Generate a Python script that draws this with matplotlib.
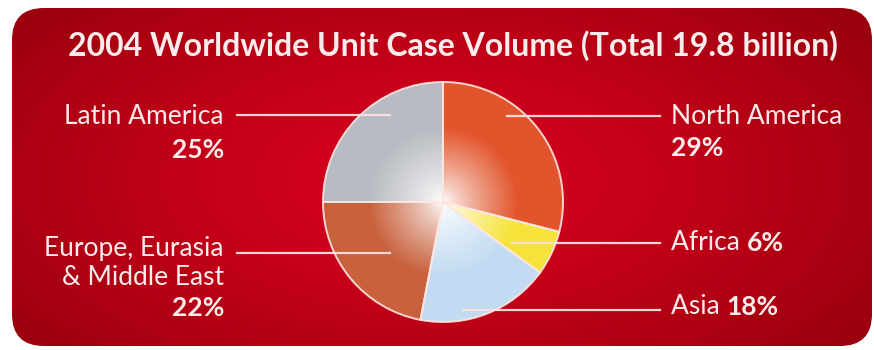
import numpy as np
import matplotlib.pyplot as plt
from matplotlib.colors import to_rgb
from matplotlib.patches import FancyBboxPatch

# Data
regions = ['North America', 'Africa', 'Asia', 'Europe, Eurasia\n& Middle East', 'Latin America']
shares = [29, 6, 18, 22, 25]
slice_colors = ['#e2552c', '#f6e33c', '#c2dbf2', '#c8613c', '#b8bbc1']
title = '2004 Worldwide Unit Case Volume (Total 19.8 billion)'

W, H = 874, 350
fig = plt.figure(figsize=(W / 100, H / 100), dpi=100)
ax = fig.add_axes([0, 0, 1, 1])

# red rounded panel with radial gradient
panel = FancyBboxPatch((12, 4), 860, 338, boxstyle='round,pad=0,rounding_size=32',
                       fc='none', ec='none')
ax.add_patch(panel)
xx, yy = np.meshgrid(np.linspace(0, W, 400), np.linspace(0, H, 200))
d = np.sqrt(((xx - 430) / 540) ** 2 + ((yy - 170) / 270) ** 2)
d = np.clip(d, 0, 1) ** 1.3
c0 = np.array([0.85, 0.0, 0.12])
c1 = np.array([0.60, 0.0, 0.05])
bg = c0 * (1 - d[..., None]) + c1 * d[..., None]
im = ax.imshow(bg, extent=[0, W, 0, H], origin='lower', zorder=0)
im.set_clip_path(panel)

# pie
cx, cy, R = 443, 148, 120
wedges, _ = ax.pie(shares, startangle=90, counterclock=False, center=(cx, cy), radius=R,
                   colors=['none'] * len(shares),
                   wedgeprops=dict(edgecolor=(1, 0.9, 0.88, 0.9), linewidth=1.4), frame=True)
ax.set_xlim(0, W)
ax.set_ylim(0, H)
ax.set_aspect('equal')
ax.axis('off')

gx, gy = np.meshgrid(np.linspace(cx - R, cx + R, 300), np.linspace(cy - R, cy + R, 300))
t = np.clip(np.hypot(gx - cx, gy - cy) / R, 0, 1)
f = np.clip(t * 1.6, 0, 1) ** 0.8
for w, col in zip(wedges, slice_colors):
    rgb = np.array(to_rgb(col))
    img = (1 - f[..., None]) * 1.0 + f[..., None] * rgb
    wi = ax.imshow(img, extent=[cx - R, cx + R, cy - R, cy + R], origin='lower', zorder=1)
    wi.set_clip_path(w)
    w.set_zorder(2)

# labels and leader lines
txt = '#fbecec'
lc = (1, 0.88, 0.88, 0.95)
fs = 19
fam = ['Lato', 'DejaVu Sans']
# left side
ax.plot([237, 390], [H - 115, H - 115], color=lc, lw=1.6, zorder=3)
ax.text(224, H - 116, regions[4], ha='right', va='center', color=txt, fontsize=fs, family=fam)
ax.text(224, H - 150, f'{shares[4]}%', ha='right', va='center', color=txt, fontsize=fs,
        family=fam, fontweight='bold')
ax.plot([237, 390], [H - 253, H - 253], color=lc, lw=1.6, zorder=3)
ax.text(224, H - 263, regions[3], ha='right', va='center', color=txt, fontsize=fs, family=fam,
        linespacing=1.2)
ax.text(224, H - 308, f'{shares[3]}%', ha='right', va='center', color=txt, fontsize=fs,
        family=fam, fontweight='bold')
# right side
ax.plot([507, 660], [H - 116, H - 116], color=lc, lw=1.6, zorder=3)
ax.text(671, H - 116, regions[0], ha='left', va='center', color=txt, fontsize=fs, family=fam)
ax.text(671, H - 148, f'{shares[0]}%', ha='left', va='center', color=txt, fontsize=fs,
        family=fam, fontweight='bold')
ax.plot([512, 660], [H - 243, H - 243], color=lc, lw=1.6, zorder=3)
t1 = ax.text(671, H - 243, regions[1] + ' ', ha='left', va='center', color=txt, fontsize=fs,
             family=fam)
ax.annotate(f'{shares[1]}%', xycoords=t1, xy=(1, 0.5), va='center', ha='left', color=txt,
            fontsize=fs, family=fam, fontweight='bold')
ax.plot([463, 660], [H - 310, H - 310], color=lc, lw=1.6, zorder=3)
t2 = ax.text(671, H - 307, regions[2] + ' ', ha='left', va='center', color=txt, fontsize=fs,
             family=fam)
ax.annotate(f'{shares[2]}%', xycoords=t2, xy=(1, 0.5), va='center', ha='left', color=txt,
            fontsize=fs, family=fam, fontweight='bold')

ax.text(453, H - 46, title, ha='center', va='center', color=txt, fontsize=23,
        family=fam, fontweight='bold')

fig.savefig('out.png', dpi=100)
